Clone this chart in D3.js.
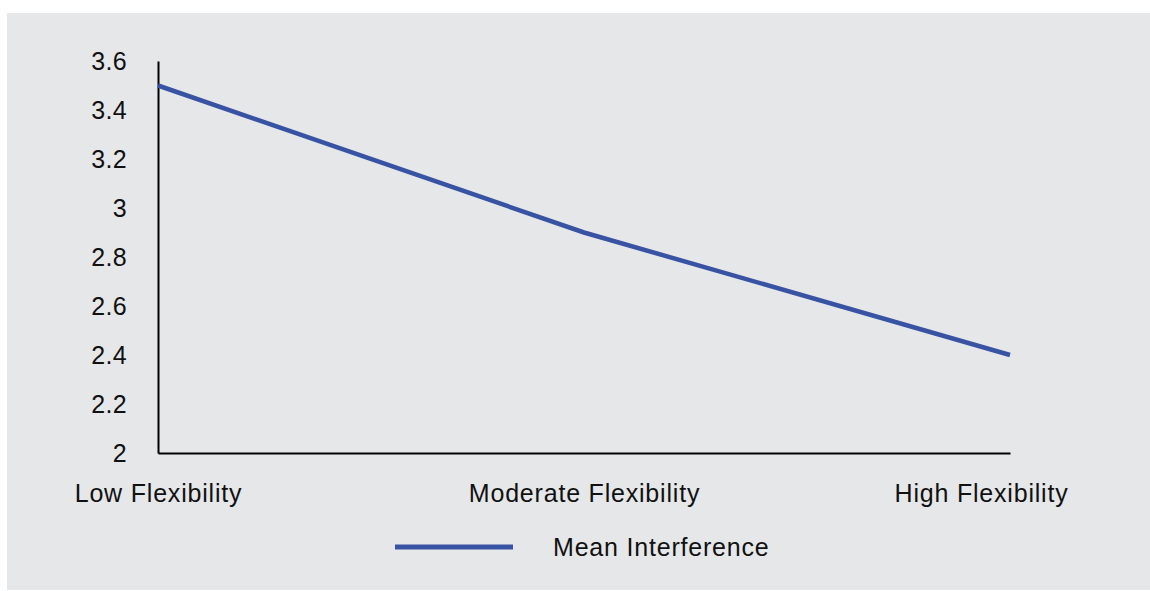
<!DOCTYPE html>
<html>
<head>
<meta charset="utf-8">
<script src="https://cdn.jsdelivr.net/npm/d3@7"></script>
<style>
  html, body { margin: 0; padding: 0; background: #ffffff; }
  svg { display: block; }
  text { font-family: "Liberation Sans", Arial, sans-serif; fill: #111; }
</style>
</head>
<body>
<svg id="chart" width="1150" height="591"></svg>
<script>
const categories = ["Low Flexibility", "Moderate Flexibility", "High Flexibility"];
const seriesName = "Mean Interference";
const meanInterference = [3.5, 2.9, 2.4];
const yTicks = [2, 2.2, 2.4, 2.6, 2.8, 3, 3.2, 3.4, 3.6];

(function () {
const svg = d3.select("#chart");
svg.append("rect").attr("x", 7).attr("y", 13).attr("width", 1143).attr("height", 577).attr("fill", "#e6e7e9");

const mLeft = 158, mRight = 1010, mTop = 61, mBottom = 453;
const labelMaxRight = 1068;
const x = d3.scalePoint().domain(categories).range([mLeft, mRight]).padding(0);
const y = d3.scaleLinear().domain([2, 3.6]).range([mBottom, mTop]);

const fontSize = "25px", spacing = "0.8px";

// Y axis
const yAxis = svg.append("g").attr("transform", `translate(${mLeft},0)`)
  .call(d3.axisLeft(y).tickValues(yTicks).tickSize(0).tickPadding(31)
    .tickFormat(d => d3.format("~g")(d)));
yAxis.select(".domain").attr("stroke", "#000").attr("stroke-width", 2);
yAxis.selectAll("text").style("font-size", fontSize).style("letter-spacing", "0.3px").attr("fill", "#111")
  .style("font-family", "'Liberation Sans', Arial, sans-serif");

// X axis
const xAxis = svg.append("g").attr("transform", `translate(0,${mBottom})`)
  .call(d3.axisBottom(x).tickSize(0).tickPadding(31));
xAxis.select(".domain").attr("stroke", "#000").attr("stroke-width", 2);
xAxis.selectAll("text").style("font-size", fontSize).style("letter-spacing", spacing).attr("fill", "#111")
  .style("font-family", "'Liberation Sans', Arial, sans-serif");
// keep labels inside the chart area (as in the original)
xAxis.selectAll(".tick").each(function (d) {
  const t = d3.select(this).select("text");
  const w = t.node().getComputedTextLength();
  const right = x(d) + w / 2;
  if (right > labelMaxRight) t.attr("x", labelMaxRight - right);
});

// Line
const line = d3.line().x((d, i) => x(categories[i])).y(d => y(d));
svg.append("path").datum(meanInterference).attr("d", line)
  .attr("fill", "none").attr("stroke", "#3853a4").attr("stroke-width", 4.5);

// Legend
svg.append("line").attr("x1", 395).attr("x2", 513).attr("y1", 547).attr("y2", 547)
  .attr("stroke", "#3853a4").attr("stroke-width", 5);
svg.append("text").attr("x", 553).attr("y", 547).attr("dy", "0.35em")
  .style("font-size", fontSize).style("letter-spacing", spacing).text(seriesName);
})();
</script>
</body>
</html>
